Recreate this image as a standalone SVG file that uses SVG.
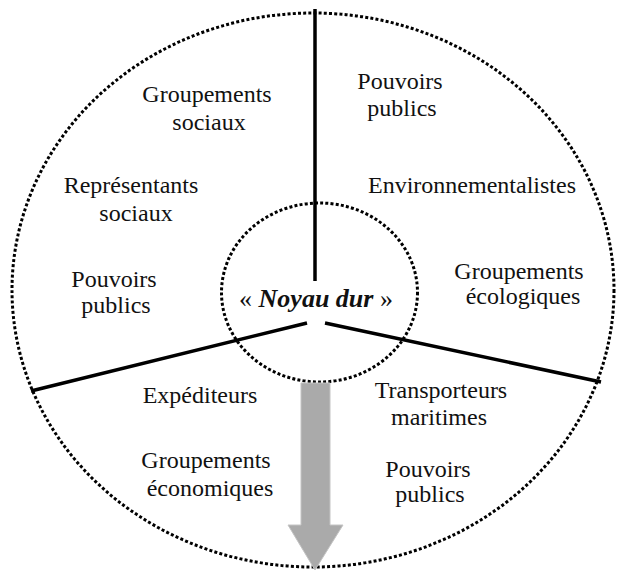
<svg xmlns="http://www.w3.org/2000/svg" width="622" height="570" viewBox="0 0 622 570">
<style>
.dot{fill:none;stroke:#000;stroke-width:3;stroke-dasharray:3 2.2}
.ln{stroke:#000;stroke-width:3.5;fill:none;stroke-linecap:butt}
.t{font-family:'Liberation Serif','DejaVu Serif',serif;font-size:24px;fill:#111;text-anchor:middle}
.core{font-size:26px}
.bi{font-weight:bold;font-style:italic}
</style>
<rect width="622" height="570" fill="#fff"/>
<g id="outer-circle"><ellipse class="dot" cx="313" cy="290" rx="301" ry="277"/></g>
<g id="core-circle"><ellipse class="dot" cx="319.5" cy="292.5" rx="98" ry="89.5"/></g>
<g id="connectors">
<line class="ln" x1="315" y1="9" x2="315" y2="281"/>
<line class="ln" x1="307" y1="323" x2="31" y2="391"/>
<line class="ln" x1="325" y1="323" x2="601" y2="382"/>
</g>
<g id="arrow"><polygon points="301,383 330,383 330,525 343,525 315,570 288,525 301,525" fill="#aaaaaa" stroke="#c4c4c4" stroke-width="1"/></g>
<g id="core"><text class="t core" font-family="Liberation Serif, serif" x="316" y="307">« <tspan class="bi">Noyau dur</tspan> »</text></g>
<g class="t" font-family="Liberation Serif, serif">
<g id="n-groupements-sociaux"><text class="t" x="207" y="102">Groupements</text><text class="t" x="209" y="130">sociaux</text></g>
<g id="n-representants-sociaux"><text class="t" x="131" y="193">Représentants</text><text class="t" x="136" y="221">sociaux</text></g>
<g id="n-pouvoirs-publics-1"><text class="t" x="114" y="287">Pouvoirs</text><text class="t" x="116" y="313">publics</text></g>
<g id="n-pouvoirs-publics-2"><text class="t" x="400" y="89">Pouvoirs</text><text class="t" x="402" y="116">publics</text></g>
<g id="n-environnementalistes"><text class="t" x="472" y="193">Environnementalistes</text></g>
<g id="n-groupements-ecologiques"><text class="t" x="519" y="279">Groupements</text><text class="t" x="523" y="304">écologiques</text></g>
<g id="n-expediteurs"><text class="t" x="200" y="403">Expéditeurs</text></g>
<g id="n-groupements-economiques"><text class="t" x="206" y="468">Groupements</text><text class="t" x="210" y="496">économiques</text></g>
<g id="n-transporteurs-maritimes"><text class="t" x="441" y="398">Transporteurs</text><text class="t" x="439" y="425">maritimes</text></g>
<g id="n-pouvoirs-publics-3"><text class="t" x="428" y="477">Pouvoirs</text><text class="t" x="430" y="502">publics</text></g>
</g>
</svg>
